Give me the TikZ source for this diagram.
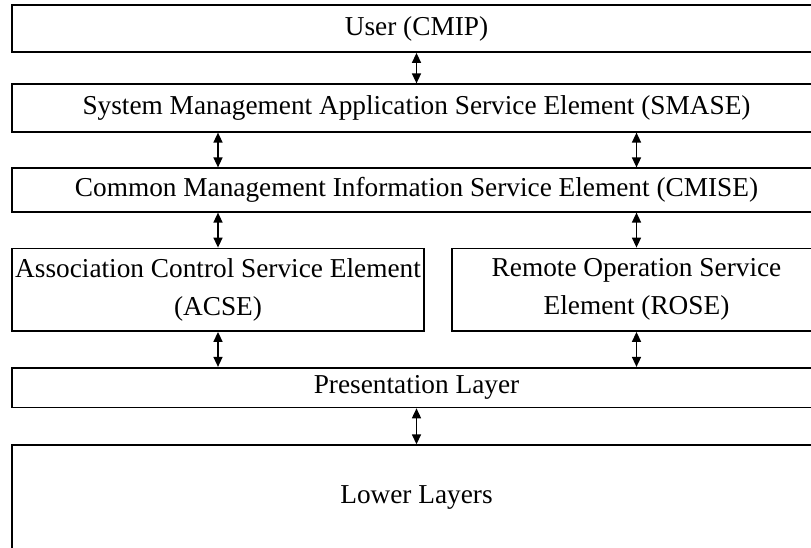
\documentclass[tikz,border=0pt]{standalone}
\usepackage{fontspec}
\setmainfont{Liberation Serif}
\usepackage{tikz}
\usetikzlibrary{arrows.meta}
\usetikzlibrary{positioning}

\begin{document}
\begin{tikzpicture}[x=1pt, y=-1pt, node distance=35pt,
  every node/.style={font=\fontsize{27.3}{38}\selectfont},
  layer/.style={draw, rectangle, line width=1.8pt, inner xsep=2pt, align=center},
  dblarrow/.style={line width=1.5pt, {Triangle[length=10pt,width=9pt]}-{Triangle[length=10pt,width=9pt]}}]
\useasboundingbox (0,0) rectangle (811,547);
\clip (0,0) rectangle (811,547);

\node[layer, minimum width=809pt, minimum height=47pt, anchor=north west] (User) at (11.1,4.1) {User (CMIP)};
\node[layer, minimum width=809pt, minimum height=47.4pt, below=30.5pt of User] (Smase) {System Management Application Service Element (SMASE)};
\node[layer, minimum width=809pt, minimum height=43.4pt, below=34.8pt of Smase] (Cmise) {Common Management Information Service Element (CMISE)};
\node[layer, minimum width=412pt, minimum height=82.5pt, below=of Cmise.south west, anchor=north west] (Acse) {Association Control Service Element\\(ACSE)};
\node[layer, minimum width=369pt, minimum height=82.5pt, right=26.2pt of Acse] (Rose) {Remote Operation Service\\Element (ROSE)};
\node[layer, minimum width=809pt, minimum height=39.6pt, below=of Acse.south west, anchor=north west] (Pres) {Presentation Layer};
\node[layer, minimum width=809pt, minimum height=104pt, below=36pt of Pres] (Lower) {Lower Layers};

\draw[dblarrow] (User) -- (Smase);
\draw[dblarrow] (Acse.north |- Smase.south) -- (Acse.north |- Cmise.north);
\draw[dblarrow] (Rose.north |- Smase.south) -- (Rose.north |- Cmise.north);
\draw[dblarrow] (Acse.north |- Cmise.south) -- (Acse);
\draw[dblarrow] (Rose.north |- Cmise.south) -- (Rose);
\draw[dblarrow] (Acse) -- (Acse.south |- Pres.north);
\draw[dblarrow] (Rose) -- (Rose.south |- Pres.north);
\draw[dblarrow] (Pres) -- (Lower);
\end{tikzpicture}
\end{document}
